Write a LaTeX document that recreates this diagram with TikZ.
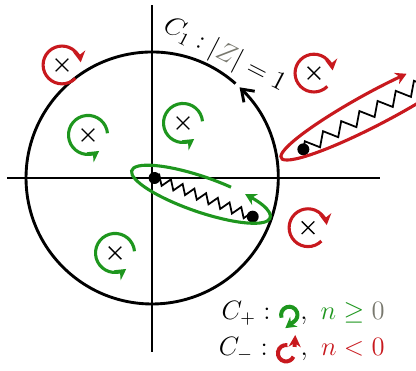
\documentclass[tikz,border=0pt]{standalone}
\usetikzlibrary{arrows.meta,decorations.pathmorphing}
\definecolor{posgreen}{RGB}{30,150,30}
\definecolor{negred}{RGB}{200,25,30}
\definecolor{zgray}{RGB}{120,120,110}
\tikzset{
  pole/.style={line width=0.6pt},
  ccwloop/.style={posgreen, line width=1.4pt, -{Stealth[length=5pt,width=5.5pt]}},
  cwloop/.style={negred, line width=1.4pt, -{Stealth[length=5pt,width=5.5pt]}},
  branchpt/.style={fill=black},
  cut/.style={line width=0.8pt, decorate, decoration={zigzag, segment length=#1, amplitude=0.075cm}},
}
\newcommand{\polecross}[1]{\draw[pole] (#1) ++(-0.1,-0.1) -- ++(0.2,0.2) ++(-0.2,0) -- ++(0.2,-0.2);}
\newcommand{\greenicon}{\tikz[baseline=-2.3pt]\draw[posgreen, line width=1.8pt, -{Stealth[length=4.8pt,width=5.5pt]}] (200:0.13) arc[start angle=200, end angle=-57, radius=0.13] -- (-0.063,-0.21);}
\newcommand{\redicon}{\tikz[baseline=-0.8pt]{\draw[negred, line width=1.8pt] (80:0.13) arc[start angle=80, end angle=335, radius=0.13];
  \draw[negred, line width=1.8pt, -{Stealth[length=5.4pt,width=5.5pt]}] (0.136,0.1) -- (0.146,0.29);}}
\begin{document}
\begin{tikzpicture}
\useasboundingbox (-2.413,-3.048) rectangle (4.19,2.825);
\clip (-2.413,-3.048) rectangle (4.19,2.825);
% axes
\draw[line width=0.5pt] (-2.3,0) -- (3.62,0);
\draw[line width=0.5pt] (0,-2.76) -- (0,2.75);
% unit circle C1
\draw[line width=1.3pt, -{Straight Barb[length=5pt,width=7pt]}] (48.5:2) arc[start angle=48.5, end angle=406, radius=2];
\node[rotate=-27.3, font=\large] (circlelabel) at (59.5:2.27) {$C_1 : |\textcolor{zgray}{Z}| = 1$};
% poles
\coordinate (r1) at (-1.429,1.794);
\coordinate (r2) at (2.57,1.665);
\coordinate (r3) at (2.476,-0.789);
\coordinate (g1) at (-1.016,0.683);
\coordinate (g2) at (0.492,0.873);
\coordinate (g3) at (-0.587,-1.19);
\foreach \p in {r1,r2,r3,g1,g2,g3} {\polecross{\p}}
\foreach \p in {g1,g2,g3}
  \draw[ccwloop] (\p) ++(5:0.31) arc[start angle=5, end angle=305, radius=0.31];
\foreach \p in {r1,r2,r3}
  \draw[cwloop] (\p) ++(-45:0.3) arc[start angle=-45, end angle=-352, radius=0.3];
% branch cuts
\coordinate (d1) at (0.04,0);
\coordinate (d2) at (1.598,-0.614);
\coordinate (d3) at (2.402,0.455);
\path (d3) ++(29:2.6) coordinate (cutend);
\draw[cut=0.2cm] (d1) -- (d2);
\draw[cut=0.33cm, decoration={amplitude=0.1cm}] (d3) -- (cutend);
\foreach \p in {d1,d2,d3} \fill[branchpt] (\p) circle (0.095);
\begin{scope}[shift={(0.775,-0.258)}, rotate=-19]
\draw[ccwloop] (69:1.16 and 0.28) arc[start angle=69, end angle=415, x radius=1.16, y radius=0.28];
\end{scope}
\begin{scope}[shift={(3.619,1.151)}, rotate=28]
\draw[cwloop] (-40:1.778 and 0.262) arc[start angle=-40, end angle=-290, x radius=1.778, y radius=0.262];
\end{scope}
% legend
\node[anchor=base east, inner sep=0pt, font=\large] (legplus) at (3.698,-2.254)
  {$C_+ : \greenicon,\ \textcolor{posgreen}{n} \mathrel{\textcolor{posgreen}{\geq}} \textcolor{zgray}{0}$};
\node[anchor=base east, inner sep=0pt, font=\large] (legminus) at (3.698,-2.81)
  {$C_- : \redicon,\ \textcolor{negred}{n} \mathrel{\textcolor{negred}{<}} \textcolor{negred}{0}$};
\end{tikzpicture}
\end{document}
